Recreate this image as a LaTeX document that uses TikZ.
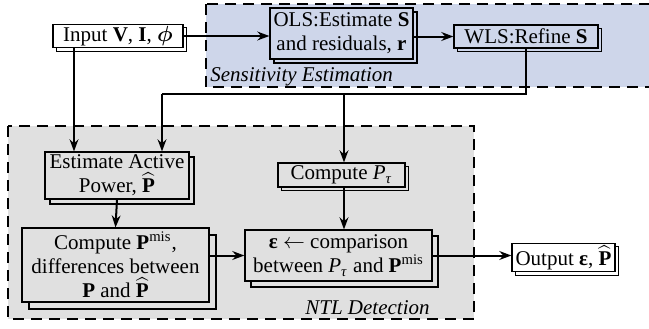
\documentclass[tikz,border=0pt]{standalone}
\usepackage{fontspec}
\setmainfont{Liberation Serif}
\usepackage{amsmath}
\usepackage{xcolor}
\usepackage{tikz}
\usetikzlibrary{arrows.meta,positioning,shadows,calc}
\definecolor{sensblue}{RGB}{206,214,234}
\definecolor{ntlgray}{RGB}{224,224,224}

\newcommand{\Phat}{$\widehat{\mathbf{P}}$}

\begin{document}
\begin{tikzpicture}[x=0.5pt, y=-0.5pt,
  font=\fontsize{10.5}{12}\selectfont,
  stackbox/.style={draw=black, line width=0.6pt, align=center, inner sep=1pt,
    copy shadow={shadow xshift=#1, shadow yshift=-#1}},
  stackbox/.default=1.8pt,
  region/.style={draw=black, line width=1pt, dash pattern=on 5.5pt off 3.5pt},
  arr/.style={line width=1pt, -{Stealth[length=6pt, width=4.4pt]}},
  line/.style={line width=1pt}]
  \useasboundingbox (0,0) rectangle (649,328);

  % regions
  \path[region, fill=sensblue] (206,4) rectangle (660,87);
  \path[region, fill=ntlgray] (8,126) rectangle (474,319);
  \node[anchor=base west, inner sep=0pt, font=\fontsize{10.5}{12}\selectfont\itshape] (senslbl)
    at (210,81) {Sensitivity Estimation};
  \node[anchor=base east, inner sep=0pt, font=\fontsize{10.5}{12}\selectfont\itshape] (ntllbl)
    at (430,314) {NTL Detection};

  % blocks
  \node[stackbox, fill=white, minimum width=65pt, minimum height=11pt] (in)
    at (118,36) {Input \textbf{V}, \textbf{I}, $\boldsymbol{\phi}$};
  \node[stackbox=2pt, fill=sensblue, minimum width=71.5pt, minimum height=25.5pt] (ols)
    at (341.5,33.5) {OLS:Estimate \textbf{S}\\and residuals, \textbf{r}};
  \node[stackbox, fill=sensblue, minimum width=72pt, minimum height=11.5pt] (wls)
    at (526,36.5) {WLS:Refine \textbf{S}};
  \node[stackbox=2.5pt, fill=ntlgray, minimum width=72pt, minimum height=23.5pt] (est)
    at (117,175.5) {Estimate Active\\Power, \Phat};
  \node[stackbox, fill=ntlgray, minimum width=63.5pt, minimum height=12pt] (cpt)
    at (341.5,175) {Compute \textit{P}\textsubscript{\textit{τ}}};
  \node[stackbox=3.5pt, fill=ntlgray, minimum width=93.5pt, minimum height=37pt] (pmis)
    at (115.5,265) {Compute \textbf{P}\textsuperscript{mis},\\differences between\\\textbf{P} and \Phat};
  \node[stackbox=3pt, fill=ntlgray, minimum width=93.5pt, minimum height=25.5pt] (cmp)
    at (338.5,255.5) {\textbf{ε} $\leftarrow$ comparison\\between \textit{P}\textsubscript{\textit{τ}} and \textbf{P}\textsuperscript{mis}};
  \node[stackbox, fill=white, minimum width=51.5pt, minimum height=12.5pt] (out)
    at (563.5,257.5) {Output \textbf{ε}, \Phat};

  % connectors
  \coordinate (jn) at (162,94);
  \coordinate (br) at (344,94);
  \coordinate (inx) at (74,47);
  \draw[arr] (in.east) -- (in.east -| ols.west);
  \draw[arr] (wls.west -| ols.east) -- (wls.west);
  \draw[line] (wls.south) |- (jn);
  \draw[arr] (jn) -- (jn |- est.north);
  \draw[arr] (br) -- (br |- cpt.north);
  \draw[arr] (inx) -- (inx |- est.north);
  \draw[arr] (est.south) -- (pmis.north);
  \draw[arr] (cpt.south -| br) -- (br |- cmp.north);
  \draw[arr] (pmis.east |- cmp.west) -- (cmp.west);
  \draw[arr] (cmp.east) -- (cmp.east -| out.west);
\end{tikzpicture}
\end{document}
